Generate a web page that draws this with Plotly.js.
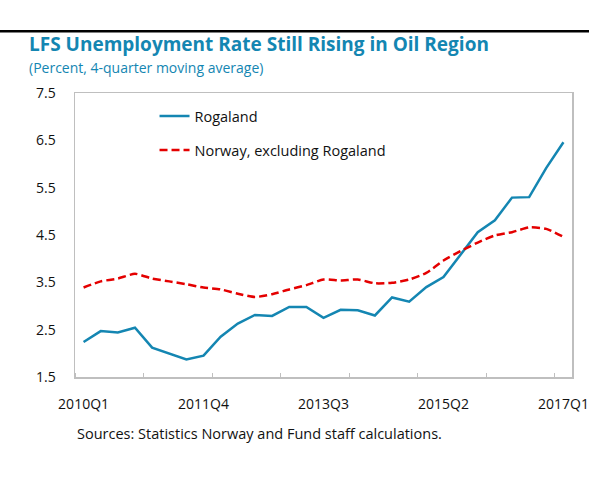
<!DOCTYPE html>
<html>
<head>
<meta charset="utf-8">
<script src="https://cdn.plot.ly/plotly-3.0.1.min.js"></script>
<style>
  html, body { margin: 0; padding: 0; background: #fff; }
  #myDiv { width: 589px; height: 482px; }
</style>
</head>
<body>
<div id="myDiv"></div>
<script>
// quarters 2010Q1 .. 2017Q1
const quarters = [];
for (let y = 2010; y <= 2017; y++) {
    for (let q = 1; q <= 4; q++) {
        if (y === 2017 && q > 1) break;
        quarters.push(y + 'Q' + q);
    }
}

const rogaland = [2.24, 2.47, 2.44, 2.54, 2.12, 1.99, 1.87, 1.95, 2.35, 2.63,
                  2.81, 2.79, 2.98, 2.98, 2.75, 2.92, 2.91, 2.80, 3.18, 3.09,
                  3.40, 3.61, 4.09, 4.56, 4.81, 5.29, 5.30, 5.92, 6.46];

const norwayExRogaland = [3.39, 3.52, 3.58, 3.68, 3.58, 3.52, 3.46, 3.39, 3.35, 3.26,
                          3.19, 3.25, 3.35, 3.44, 3.56, 3.54, 3.56, 3.48, 3.49, 3.56,
                          3.70, 3.96, 4.16, 4.34, 4.49, 4.56, 4.66, 4.63, 4.46];

const labelQuarters = ['2010Q1', '2011Q4', '2013Q3', '2015Q2', '2017Q1'];

const idx = quarters.map((q, i) => i);
const tickvals = labelQuarters.map(q => quarters.indexOf(q));

const blue = 'rgb(20,134,178)';
const red = 'rgb(228,0,0)';
const font = '"Open Sans", "Segoe UI", sans-serif';

const traces = [
    {
        x: idx, y: rogaland,
        mode: 'lines',
        name: 'Rogaland',
        legendgroup: 'a',
        line: { color: blue, width: 2.5 }
    },
    {
        x: idx, y: norwayExRogaland,
        mode: 'lines',
        name: 'Norway, excluding Rogaland',
        legendgroup: 'b',
        line: { color: red, width: 2.5, dash: '8px,4px', shape: 'spline', smoothing: 0.6 }
    }
];

const layout = {
    width: 589,
    height: 482,
    paper_bgcolor: '#fff',
    plot_bgcolor: '#fff',
    font: { family: font, size: 14, color: '#111' },
    margin: { l: 75, r: 17, t: 93, b: 105 },
    xaxis: {
        range: [-0.5, quarters.length - 0.5],
        tickmode: 'array',
        tickvals: tickvals,
        ticktext: labelQuarters,
        ticks: '',
        ticklabelstandoff: 14,
        showgrid: false,
        zeroline: false,
        showline: true,
        mirror: true,
        linecolor: '#bfbfbf',
        linewidth: 1.5,
        tickfont: { size: 14, color: '#111' },
        minor: { tickmode: 'linear', tick0: 3.5, dtick: 4, ticks: 'inside', ticklen: 4, tickcolor: '#bfbfbf', tickwidth: 1, showgrid: false }
    },
    yaxis: {
        range: [1.5, 7.5],
        tickmode: 'linear',
        tick0: 1.5,
        dtick: 1,
        tickformat: '.1f',
        ticks: '',
        ticklabelstandoff: 15,
        showgrid: false,
        zeroline: false,
        showline: true,
        mirror: true,
        linecolor: '#bfbfbf',
        linewidth: 1.5,
        tickfont: { size: 14, color: '#111' }
    },
    showlegend: true,
    legend: {
        x: 0.16, y: 0.975,
        xanchor: 'left', yanchor: 'top',
        bgcolor: 'rgba(0,0,0,0)',
        font: { size: 14.5, color: '#111' },
        tracegroupgap: 12
    },
    shapes: [
        { type: 'line', xref: 'paper', yref: 'paper', x0: -0.2, x1: 1.1, y0: 1.217, y1: 1.217,
          line: { color: '#000', width: 2.5 } }
    ],
    annotations: [
        { xref: 'paper', yref: 'paper', x: -0.097, y: 1.172, xanchor: 'left', yanchor: 'middle',
          text: '<b>LFS Unemployment Rate Still Rising in Oil Region</b>', showarrow: false,
          font: { size: 19, color: blue } },
        { xref: 'paper', yref: 'paper', x: -0.097, y: 1.09, xanchor: 'left', yanchor: 'middle',
          text: '(Percent, 4-quarter moving average)', showarrow: false,
          font: { size: 14, color: blue } },
        { xref: 'paper', yref: 'paper', x: 0.0, y: -0.2, xanchor: 'left', yanchor: 'middle',
          text: 'Sources: Statistics Norway and Fund staff calculations.', showarrow: false,
          font: { size: 14.5, color: '#111' } }
    ]
};

Plotly.newPlot('myDiv', traces, layout, { displayModeBar: false, staticPlot: true });
</script>
</body>
</html>
